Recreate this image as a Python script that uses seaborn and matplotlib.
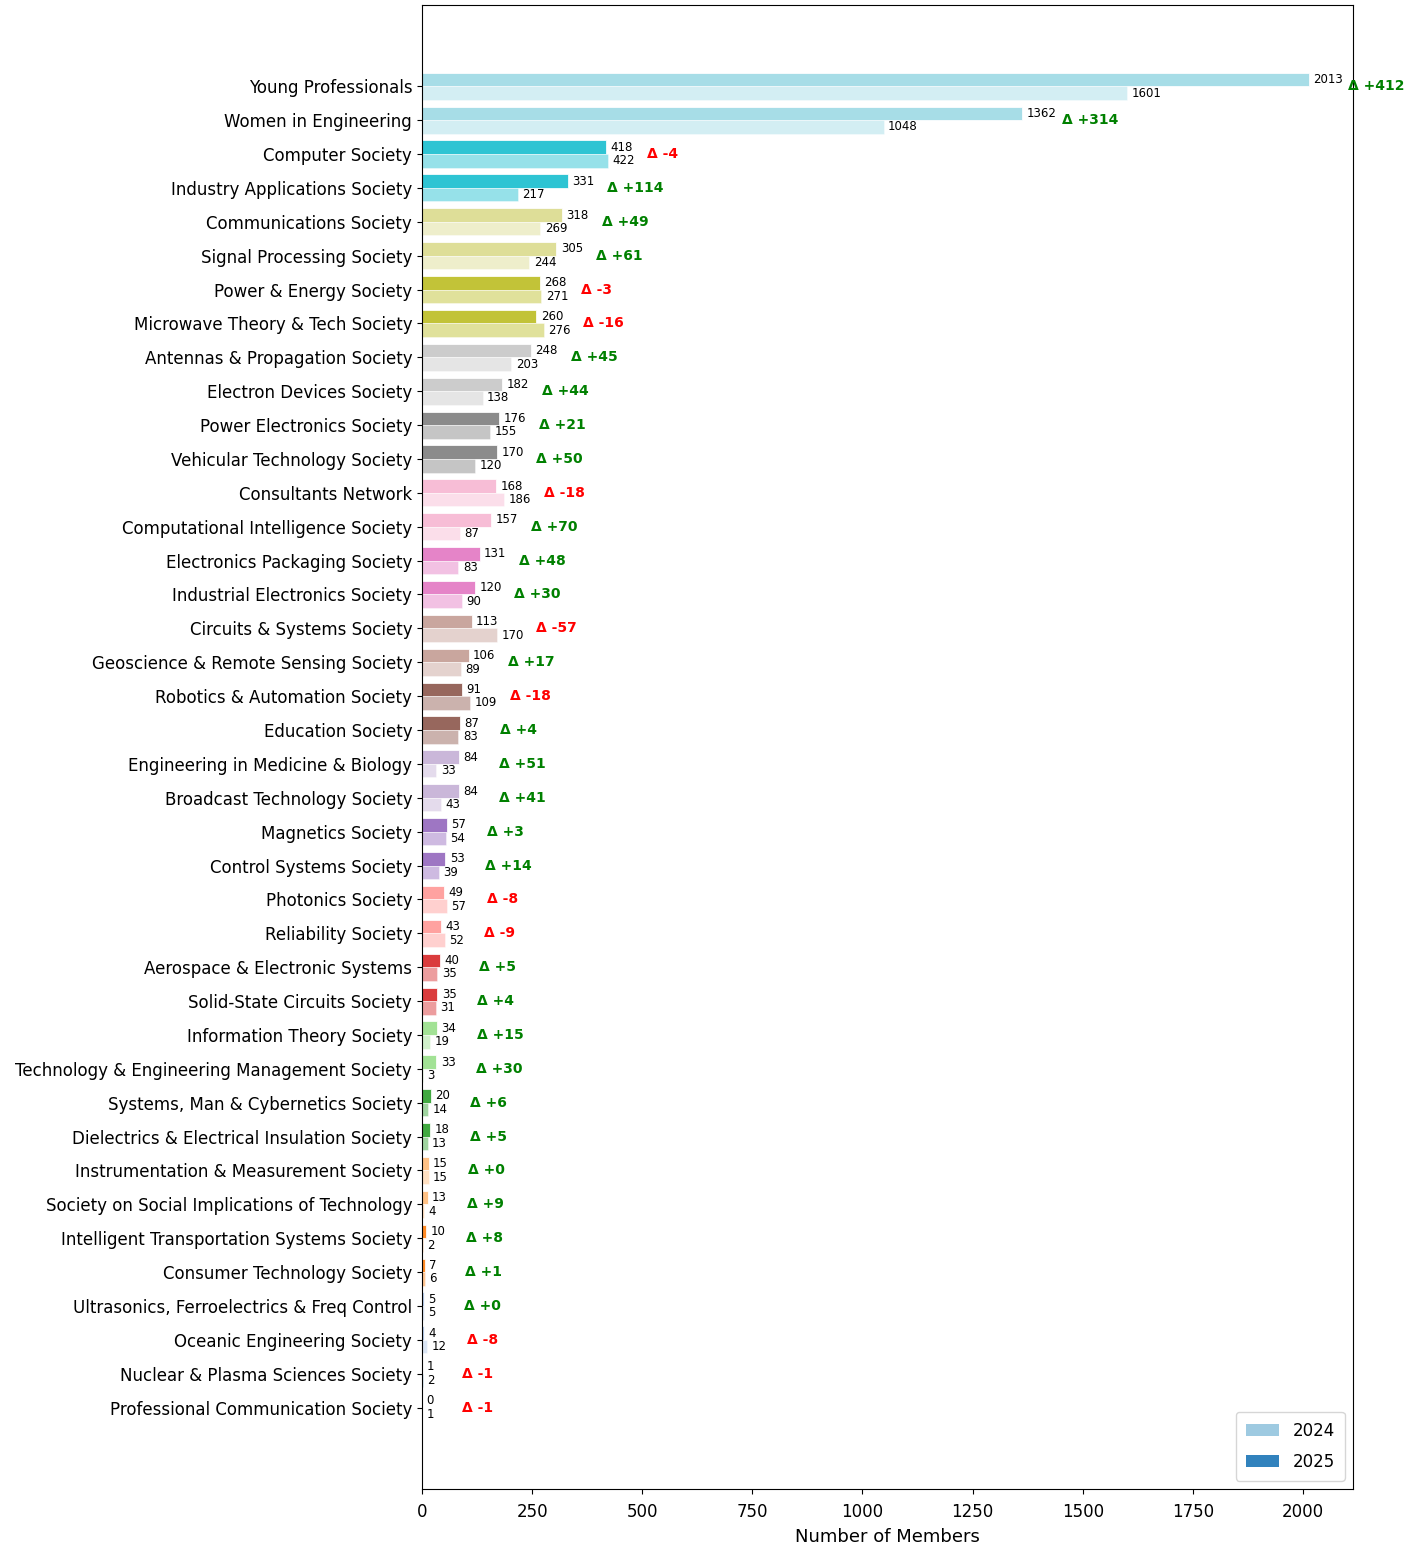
import numpy as np
import pandas as pd
import matplotlib
matplotlib.use("Agg")
import matplotlib.pyplot as plt
from matplotlib.patches import Patch
import seaborn as sns

societies = [
    "Young Professionals", "Women in Engineering", "Computer Society",
    "Industry Applications Society", "Communications Society",
    "Signal Processing Society", "Power & Energy Society",
    "Microwave Theory & Tech Society", "Antennas & Propagation Society",
    "Electron Devices Society", "Power Electronics Society",
    "Vehicular Technology Society", "Consultants Network",
    "Computational Intelligence Society", "Electronics Packaging Society",
    "Industrial Electronics Society", "Circuits & Systems Society",
    "Geoscience & Remote Sensing Society", "Robotics & Automation Society",
    "Education Society", "Engineering in Medicine & Biology",
    "Broadcast Technology Society", "Magnetics Society",
    "Control Systems Society", "Photonics Society", "Reliability Society",
    "Aerospace & Electronic Systems", "Solid-State Circuits Society",
    "Information Theory Society",
    "Technology & Engineering Management Society",
    "Systems, Man & Cybernetics Society",
    "Dielectrics & Electrical Insulation Society",
    "Instrumentation & Measurement Society",
    "Society on Social Implications of Technology",
    "Intelligent Transportation Systems Society",
    "Consumer Technology Society",
    "Ultrasonics, Ferroelectrics & Freq Control",
    "Oceanic Engineering Society", "Nuclear & Plasma Sciences Society",
    "Professional Communication Society",
]
members_2025 = [2013, 1362, 418, 331, 318, 305, 268, 260, 248, 182, 176, 170,
                168, 157, 131, 120, 113, 106, 91, 87, 84, 84, 57, 53, 49, 43,
                40, 35, 34, 33, 20, 18, 15, 13, 10, 7, 5, 4, 1, 0]
members_2024 = [1601, 1048, 422, 217, 269, 244, 271, 276, 203, 138, 155, 120,
                186, 87, 83, 90, 170, 89, 109, 83, 33, 43, 54, 39, 57, 52,
                35, 31, 19, 3, 14, 13, 15, 4, 2, 6, 5, 12, 2, 1]
years = ["2025", "2024"]

n = len(societies)
df = pd.DataFrame({
    "Society": societies * 2,
    "Year": ["2025"] * n + ["2024"] * n,
    "Members": members_2025 + members_2024,
})

fig = plt.figure(figsize=(14.24, 15.51), dpi=100)
ax = fig.add_axes([0.2963, 0.0400, 0.6539, 0.9568])

sns.barplot(data=df, y="Society", x="Members", hue="Year", hue_order=years,
            orient="h", order=societies, width=0.8, legend=False, ax=ax,
            errorbar=None)

cmap = plt.get_cmap("tab20")
for level, cont in enumerate(ax.containers):
    alpha = 0.9 if level == 0 else 0.45
    for i, bar in enumerate(cont):
        rank = n - 1 - i
        bar.set_facecolor(cmap(rank // 2))
        bar.set_alpha(alpha)
        bar.set_edgecolor("white")
        bar.set_linewidth(0.6)

xmax = max(members_2025) * 1.05
for i in range(n):
    v25, v24 = members_2025[i], members_2024[i]
    ax.text(v25 + 10, i - 0.2, str(v25), va="center", ha="left", fontsize=8.5)
    ax.text(v24 + 10, i + 0.2, str(v24), va="center", ha="left", fontsize=8.5)
    d = v25 - v24
    col = "green" if d >= 0 else "red"
    ax.text(max(v25, v24) + 90, i, f"Δ {d:+d}", va="center", ha="left",
            fontsize=10, fontweight="bold", color=col)

ax.set_xlim(0, xmax)
ax.set_ylim(41.4, -2.4)
ax.set_ylabel("")
ax.set_xlabel("Number of Members", fontsize=13, labelpad=5)
ax.tick_params(axis="y", labelsize=12)
ax.tick_params(axis="x", labelsize=12, pad=6.5)

handles = [Patch(facecolor="#9ecae1", label="2024"),
           Patch(facecolor="#3182bd", label="2025")]
ax.legend(handles=handles, loc="lower right", fontsize=12,
          labelspacing=0.75, borderpad=0.6)

fig.savefig("out.png", dpi=100)
